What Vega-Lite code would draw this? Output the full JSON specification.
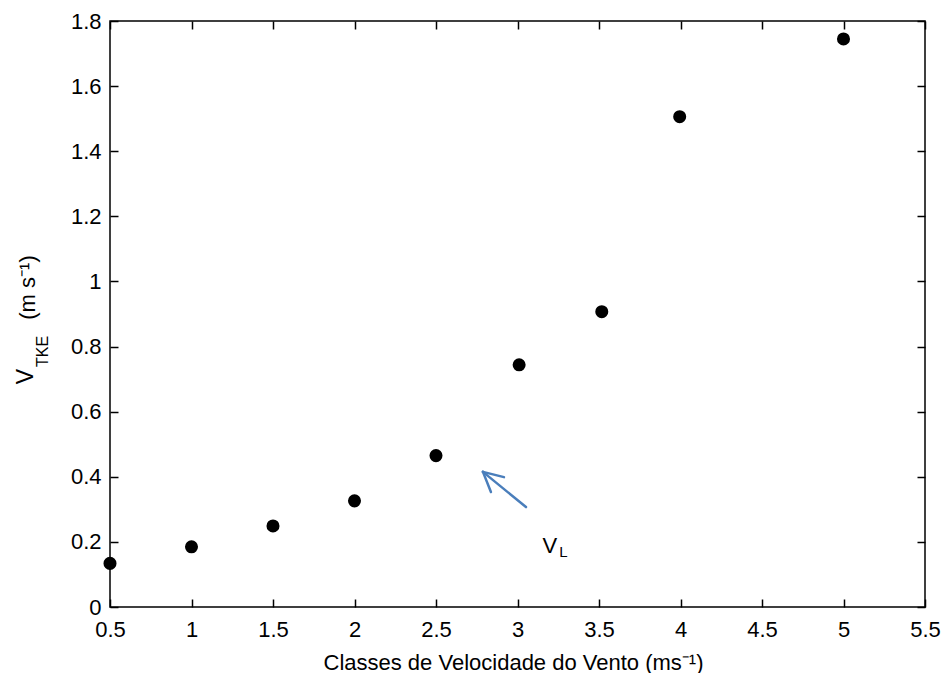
{
  "$schema": "https://vega.github.io/schema/vega-lite/v6.json",
  "autosize": {"type": "none"},
  "width": 815,
  "height": 586,
  "padding": {"left": 110, "top": 21, "right": 16, "bottom": 66},
  "background": "white",
  "config": {
    "view": {"stroke": "#000000", "strokeWidth": 1.5},
    "axis": {
      "grid": false,
      "domain": false,
      "tickColor": "#000000",
      "tickWidth": 1.5,
      "tickSize": -8,
      "labelFlush": false,
      "labelOverlap": false,
      "labelFont": "Liberation Sans",
      "labelFontSize": 22,
      "labelColor": "#000000",
      "titleFont": "Liberation Sans",
      "titleFontSize": 22,
      "titleFontWeight": "normal",
      "titleColor": "#000000"
    }
  },
  "datasets": {
    "points": [
      {"classe": 0.5, "vtke": 0.134},
      {"classe": 1.0, "vtke": 0.185},
      {"classe": 1.5, "vtke": 0.249},
      {"classe": 2.0, "vtke": 0.326},
      {"classe": 2.5, "vtke": 0.465},
      {"classe": 3.01, "vtke": 0.744},
      {"classe": 3.517, "vtke": 0.907},
      {"classe": 3.995, "vtke": 1.506},
      {"classe": 5.0, "vtke": 1.745}
    ],
    "arrow": [
      {"x1": 3.052, "y1": 0.307, "x2": 2.788, "y2": 0.415},
      {"x1": 2.917, "y1": 0.399, "x2": 2.788, "y2": 0.415},
      {"x1": 2.837, "y1": 0.353, "x2": 2.788, "y2": 0.415}
    ],
    "labels": [
      {"x": 3.199, "y": 0.187, "text": "V", "size": 22},
      {"x": 3.282, "y": 0.168, "text": "L", "size": 15}
    ]
  },
  "resolve": {"axis": {"x": "independent", "y": "independent"}},
  "layer": [
    {
      "data": {"name": "points"},
      "mark": {"type": "point", "filled": true, "shape": "circle", "color": "#000000", "opacity": 1, "size": 170},
      "encoding": {
        "x": {
          "field": "classe", "type": "quantitative",
          "scale": {"domain": [0.5, 5.5], "nice": false, "zero": false},
          "axis": {
            "orient": "bottom",
            "values": [0.5, 1, 1.5, 2, 2.5, 3, 3.5, 4, 4.5, 5, 5.5],
            "format": "~g",
            "labelPadding": 20,
            "title": "Classes de Velocidade do Vento (ms⁻¹)",
            "titleX": 403,
            "titleY": 55,
            "titleAlign": "center",
            "titleBaseline": "middle"
          }
        },
        "y": {
          "field": "vtke", "type": "quantitative",
          "scale": {"domain": [0, 1.8], "nice": false, "zero": false},
          "axis": {
            "orient": "left",
            "values": [0, 0.2, 0.4, 0.6, 0.8, 1, 1.2, 1.4, 1.6, 1.8],
            "format": "~g",
            "labelPadding": 17,
            "title": "V",
            "titleFontSize": 23,
            "titleAngle": 270,
            "titleX": -85,
            "titleY": 355,
            "titleAlign": "center",
            "titleBaseline": "middle"
          }
        }
      }
    },
    {
      "data": {"name": "arrow"},
      "mark": {"type": "rule", "color": "#4a7ebb", "strokeWidth": 2.5, "strokeCap": "round"},
      "encoding": {
        "x": {
          "field": "x1", "type": "quantitative",
          "scale": {"domain": [0.5, 5.5], "nice": false, "zero": false},
          "axis": {
            "orient": "top",
            "values": [0.5, 1, 1.5, 2, 2.5, 3, 3.5, 4, 4.5, 5, 5.5],
            "labels": false,
            "title": "(m s⁻¹)",
            "titleAngle": 270,
            "titleX": -83,
            "titleY": 266,
            "titleAlign": "center",
            "titleBaseline": "middle"
          }
        },
        "x2": {"field": "x2"},
        "y": {
          "field": "y1", "type": "quantitative",
          "scale": {"domain": [0, 1.8], "nice": false, "zero": false},
          "axis": {
            "orient": "right",
            "values": [0, 0.2, 0.4, 0.6, 0.8, 1, 1.2, 1.4, 1.6, 1.8],
            "labels": false,
            "title": "TKE",
            "titleFontSize": 16,
            "titleAngle": 270,
            "titleX": -883,
            "titleY": 330,
            "titleAlign": "center",
            "titleBaseline": "middle"
          }
        },
        "y2": {"field": "y2"}
      }
    },
    {
      "data": {"name": "labels"},
      "mark": {"type": "text", "font": "Liberation Sans", "color": "#000000", "align": "center", "baseline": "middle"},
      "encoding": {
        "x": {"field": "x", "type": "quantitative", "scale": {"domain": [0.5, 5.5], "nice": false, "zero": false}, "axis": null},
        "y": {"field": "y", "type": "quantitative", "scale": {"domain": [0, 1.8], "nice": false, "zero": false}, "axis": null},
        "text": {"field": "text"},
        "size": {"field": "size", "type": "quantitative", "scale": null, "legend": null}
      }
    }
  ]
}
